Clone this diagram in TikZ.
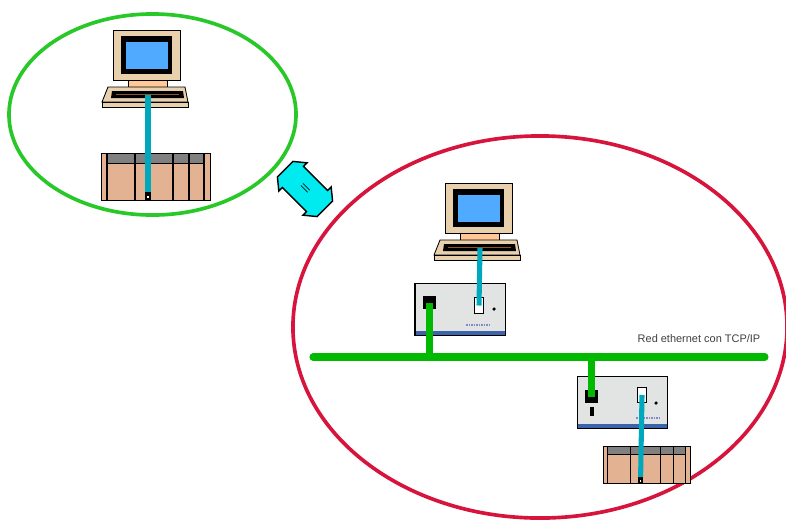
\documentclass[tikz,border=0pt]{standalone}
\usepackage{fontspec}
\setsansfont{Liberation Sans}
\definecolor{ringgreen}{RGB}{40,200,40}
\definecolor{ringred}{RGB}{215,20,60}
\definecolor{langreen}{RGB}{0,185,0}
\definecolor{cabteal}{RGB}{0,168,190}
\definecolor{casetan}{RGB}{232,208,172}
\definecolor{necktan}{RGB}{255,200,150}
\definecolor{screenblue}{RGB}{80,170,255}
\definecolor{racktan}{RGB}{226,178,146}
\definecolor{rackgray}{RGB}{128,128,128}
\definecolor{boxgray}{RGB}{226,228,228}
\definecolor{stripblue}{RGB}{60,100,170}
\definecolor{linkcyan}{RGB}{0,235,240}

\begin{document}
\begin{tikzpicture}[
x=0.025cm, y=-0.025cm,
ring/.style={line width=2.6pt},
case/.style={draw, line width=0.6pt, fill=casetan},
rack/.style={draw, line width=0.6pt, fill=racktan},
cable/.style={cabteal, line width=3.6pt},
bus/.style={langreen, line width=5pt, line cap=round},
drop/.style={langreen, line width=5.5pt},
module/.style={
	draw, line width=1pt, fill=boxgray,
	minimum width=2.26cm, minimum height=1.3cm, inner sep=0pt,
	path picture={\fill[stripblue] (path picture bounding box.south west)
		rectangle ([yshift=0.11cm]path picture bounding box.south east);}
},
lanport/.style={fill=black, minimum size=0.32cm, inner sep=0pt},
serport/.style={draw, line width=0.8pt, fill=white, minimum width=0.22cm,
	minimum height=0.38cm, inner sep=0pt},
led/.style={circle, fill=black, minimum size=2.5pt, inner sep=0pt},
tag/.style={blue!35!gray!70, line width=1.1pt, dash pattern=on 1.2pt off 0.6pt},
netlabel/.style={font=\sffamily\fontsize{7.8}{9}\selectfont, text=black!75},
linkshape/.style={draw, line width=1pt, fill=linkcyan, line join=miter},
linkmark/.style={inner sep=0pt, rotate=-45, font=\bfseries\small},
pc/.pic={
	\draw[case] (0,0) rectangle (67,50);
	\fill (8,6) rectangle (59,44);
	\fill[screenblue] (13,12) rectangle (55,39);
	\draw[line width=0.6pt, fill=necktan] (15,50) rectangle (54,57);
	\draw[case] (-5,57) -- (72,57) -- (75,72) -- (-11,72) -- cycle;
	\draw[case] (-11,72) rectangle (75,77);
	\fill (-1,61) -- (70,61) -- (71,68) -- (-2,68) -- cycle;
	\draw[brown!70!black, line width=0.8pt] (3,64.5) -- (66,64.5);
	\coordinate (-jack) at (35,65);
},
plc/.pic={
	\draw[rack] (0,0) rectangle (109,47);
	\draw[line width=0.6pt, fill=rackgray] (6,0) rectangle (103,10);
	\foreach \u in {6,34,72,88,103}
		\draw[line width=0.8pt] (\u,0) -- (\u,47);
	\fill (44,37) rectangle (50,47);
	\fill[white] (46,43) rectangle (48,45);
	\coordinate (-port) at (47,39);
}
]
\useasboundingbox (0,0) rectangle (786,520);

% local station
\draw[ringgreen, ring] (152.5,114.5) ellipse [x radius=3.5875cm, y radius=2.5125cm];
\pic (pcA) at (113,30) {pc};
\pic (plcA) at (101,153) {plc};
\draw[cable] (pcA-jack) -- (plcA-port);

% remote network
\draw[ringred, ring] (540,327) ellipse [x radius=6.175cm, y radius=4.775cm];
\coordinate (busW) at (313,357);
\coordinate (busE) at (765,357);
\draw[bus] (busW) -- (busE);
\node[netlabel] (netname) at (699,339) {Red ethernet con TCP/IP};

\pic (pcB) at (445,183) {pc};
\node[module] (modA) at (460,309.5) {};
\node[lanport] (modA-lan) at (429.5,302.5) {};
\node[serport] (modA-ser) at (479,305.5) {};
\node[led] (modA-led) at (494,309) {};
\draw[tag] (466,325) -- (489,325);
\draw[drop] (modA-lan.center) -- (modA-lan.center |- busW);
\draw[cable] (pcB-jack) -- (modA-ser.center);

\node[module] (modB) at (622.5,402.5) {};
\node[lanport] (modB-lan) at (591.5,396.5) {};
\fill (589.5,407) rectangle (593.5,416);
\node[serport] (modB-ser) at (642,395) {};
\node[led] (modB-led) at (656,403) {};
\draw[tag] (636,418) -- (659,418);
\draw[drop] (modB-lan.center |- busW) -- (modB-lan.center);
\pic[scale=0.8] (plcB) at (603,446) {plc};
\draw[cable] (modB-ser.center) -- (plcB-port);

% remote access
\begin{scope}[shift={(305,189)}, rotate=-45]
	\draw[linkshape] (-28,-11) -- (-17,-20) -- (-17,-15) -- (17,-15) -- (17,-20)
		-- (28,-11) -- (28,11) -- (17,20) -- (17,15) -- (-17,15) -- (-17,20)
		-- (-28,11) -- cycle;
\end{scope}
\node[linkmark] (xfer) at (305,189) {=};
\end{tikzpicture}
\end{document}
